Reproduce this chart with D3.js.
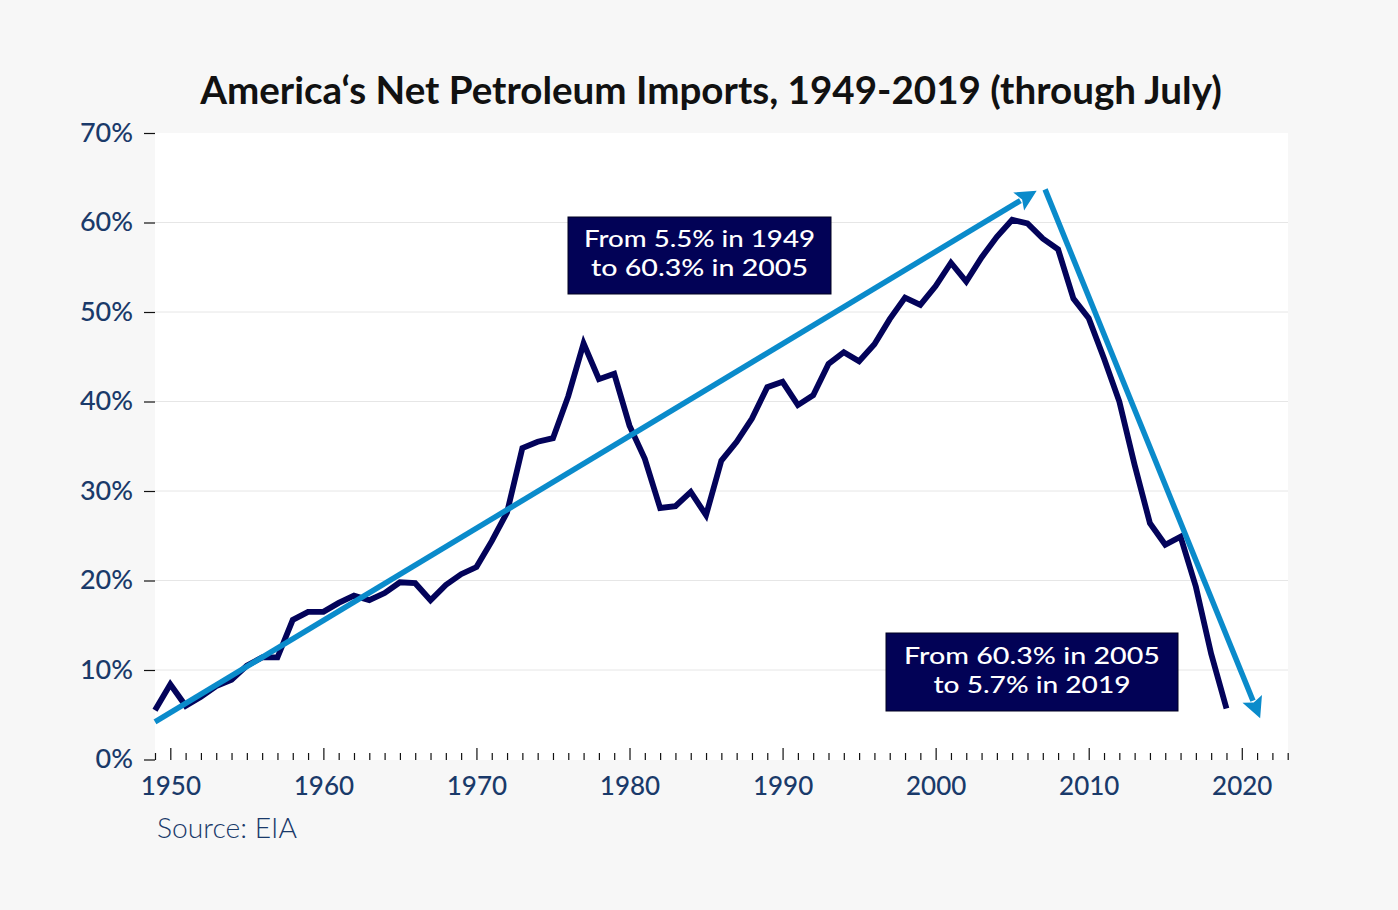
<!DOCTYPE html>
<html>
<head>
<meta charset="utf-8">
<script src="https://cdn.jsdelivr.net/npm/d3@7"></script>
<style>
  html, body { margin: 0; padding: 0; background: #f7f7f7; }
  svg { display: block; }
</style>
</head>
<body>
<svg id="chart" width="1398" height="910"></svg>
<script>
// ---- data ----
const years = [1949,1950,1951,1952,1953,1954,1955,1956,1957,1958,1959,1960,1961,1962,1963,1964,1965,1966,1967,1968,1969,
  1970,1971,1972,1973,1974,1975,1976,1977,1978,1979,1980,1981,1982,1983,1984,1985,1986,1987,1988,1989,
  1990,1991,1992,1993,1994,1995,1996,1997,1998,1999,2000,2001,2002,2003,2004,2005,2006,2007,2008,2009,
  2010,2011,2012,2013,2014,2015,2016,2017,2018,2019];
const netImportsPct = [5.5,8.4,6.0,7.0,8.2,8.9,10.5,11.4,11.4,15.6,16.5,16.5,17.5,18.3,17.8,18.6,19.8,19.7,17.8,19.5,20.7,
  21.5,24.4,27.6,34.8,35.5,35.9,40.6,46.5,42.5,43.1,37.3,33.6,28.1,28.3,29.9,27.3,33.4,35.5,38.1,41.6,
  42.2,39.6,40.7,44.2,45.5,44.5,46.4,49.2,51.6,50.8,52.9,55.5,53.4,56.1,58.4,60.3,59.9,58.2,57.0,51.5,
  49.3,44.8,40.0,32.9,26.4,24.0,24.9,19.3,11.8,5.7];
const yTicks = [0,10,20,30,40,50,60,70];
const xMajorTicks = [1950,1960,1970,1980,1990,2000,2010,2020];
const titleText = "America\u2018s Net Petroleum Imports, 1949-2019 (through July)";
const sourceText = "Source: EIA";
const riseLabel = ["From 5.5% in 1949", "to 60.3% in 2005"];
const fallLabel = ["From 60.3% in 2005", "to 5.7% in 2019"];
// trend arrows: [year, percent] start and end
const riseArrow = [[1949, 4.2], [2006.6, 63.55]];
const fallArrow = [[2007.15, 63.7], [2021.2, 4.6]];

// ---- layout ----
const svg = d3.select("#chart");
const plot = {left: 155, right: 1288, top: 133, bottom: 760};
const x = d3.scaleLinear().domain([1949, 2023]).range([plot.left, plot.right - 0.3]);
const y = d3.scaleLinear().domain([0, 70]).range([759.5, 133]);
const font = "Lato, 'Noto Sans', sans-serif";
const labelColor = "#1a3a6a";
const navy = "#03035a";
const blue = "#0a8bcb";

svg.append("rect").attr("width", 1398).attr("height", 910).attr("fill", "#f7f7f7");
svg.append("rect")
  .attr("x", plot.left).attr("y", plot.top)
  .attr("width", plot.right - plot.left).attr("height", plot.bottom - plot.top)
  .attr("fill", "#ffffff");

// gridlines
svg.append("g").selectAll("line")
  .data(yTicks.filter(d => d > 0 && d < 70))
  .join("line")
  .attr("x1", plot.left).attr("x2", plot.right)
  .attr("y1", d => y(d)).attr("y2", d => y(d))
  .attr("stroke", "#e6e6e6").attr("stroke-width", 1);

// y axis
const yAxis = svg.append("g")
  .attr("transform", `translate(${plot.left},0)`)
  .call(d3.axisLeft(y).tickValues(yTicks).tickFormat(d => d + "%").tickSize(11).tickPadding(11));
yAxis.select(".domain").remove();
yAxis.selectAll(".tick line").attr("stroke", "#111").attr("stroke-width", 1.2);
yAxis.selectAll(".tick text")
  .attr("fill", labelColor).attr("font-family", font).attr("font-weight", 500)
  .attr("font-size", 27).attr("dy", "0.3em");

// x axis: minor ticks every year
const allYears = d3.range(1949, 2024);
const xMinor = svg.append("g")
  .attr("transform", `translate(0,${plot.bottom})`)
  .call(d3.axisBottom(x).tickValues(allYears.filter(d => d % 10 !== 0)).tickFormat("").tickSize(-7));
xMinor.select(".domain").remove();
xMinor.selectAll(".tick line").attr("stroke", "#111").attr("stroke-width", 1.2);

const xMajor = svg.append("g")
  .attr("transform", `translate(0,${plot.bottom})`)
  .call(d3.axisBottom(x).tickValues(xMajorTicks).tickFormat(d3.format("d")).tickSize(-12).tickPadding(17));
xMajor.select(".domain").remove();
xMajor.selectAll(".tick line").attr("stroke", "#111").attr("stroke-width", 1.2);
xMajor.selectAll(".tick text")
  .attr("fill", labelColor).attr("font-family", font).attr("font-weight", 500).attr("font-size", 26);

// data line
const data = years.map((yr, i) => ({yr, v: netImportsPct[i]}));
svg.append("path")
  .datum(data)
  .attr("fill", "none")
  .attr("stroke", navy)
  .attr("stroke-width", 5.8)
  .attr("stroke-linejoin", "miter")
  .attr("stroke-miterlimit", 6)
  .attr("d", d3.line().x(d => x(d.yr)).y(d => y(d.v)));

// arrows
function drawArrow(pts) {
  const [x0, y0] = [x(pts[0][0]), y(pts[0][1])];
  const [x1, y1] = [x(pts[1][0]), y(pts[1][1])];
  const len = Math.hypot(x1 - x0, y1 - y0);
  const ux = (x1 - x0) / len, uy = (y1 - y0) / len;
  const headLen = 21, headHalf = 10.5;
  const bx = x1 - ux * headLen, by = y1 - uy * headLen;
  svg.append("line")
    .attr("x1", x0).attr("y1", y0)
    .attr("x2", bx + ux * 2).attr("y2", by + uy * 2)
    .attr("stroke", blue).attr("stroke-width", 5.5);
  svg.append("path")
    .attr("d", `M${x1},${y1}L${bx - uy * headHalf},${by + ux * headHalf}L${bx + ux*4},${by + uy*4}L${bx + uy * headHalf},${by - ux * headHalf}Z`)
    .attr("fill", blue);
}
drawArrow(riseArrow);
drawArrow(fallArrow);

// annotation boxes
function fitText(sel, targetWidth, baseSize) {
  const w = sel.node().getComputedTextLength();
  const fs = baseSize * targetWidth / w;
  sel.attr("font-size", fs);
  return fs;
}
function drawBox(lines, bx, by, bw, bh, widths, baselines) {
  svg.append("rect")
    .attr("x", bx).attr("y", by).attr("width", bw).attr("height", bh)
    .attr("fill", "#020256").attr("stroke", "#000020").attr("stroke-width", 1);
  const gap = baselines[1] - baselines[0];
  const fs = gap / 1.21;
  lines.forEach((ln, i) => {
    svg.append("text")
      .attr("x", bx + bw / 2).attr("y", baselines[i])
      .attr("text-anchor", "middle").attr("fill", "#ffffff")
      .attr("font-family", font).attr("font-weight", 500).attr("font-size", fs)
      .attr("textLength", widths[i]).attr("lengthAdjust", "spacingAndGlyphs")
      .text(ln);
  });
}
drawBox(riseLabel, 568, 217, 263, 77, [231, 217], [247, 276]);
drawBox(fallLabel, 886, 633, 292, 78, [256, 197], [664, 693]);

// title
const title = svg.append("text")
  .attr("x", 711).attr("y", 104)
  .attr("text-anchor", "middle")
  .attr("font-family", font).attr("font-weight", 700)
  .attr("font-size", 36).attr("fill", "#111111")
  .text(titleText);
fitText(title, 1022, 36);

// source
const src = svg.append("text")
  .attr("x", 157).attr("y", 838)
  .attr("font-family", font).attr("font-weight", 300)
  .attr("font-size", 28).attr("fill", labelColor)
  .text(sourceText);
fitText(src, 140, 28);
</script>
</body>
</html>
